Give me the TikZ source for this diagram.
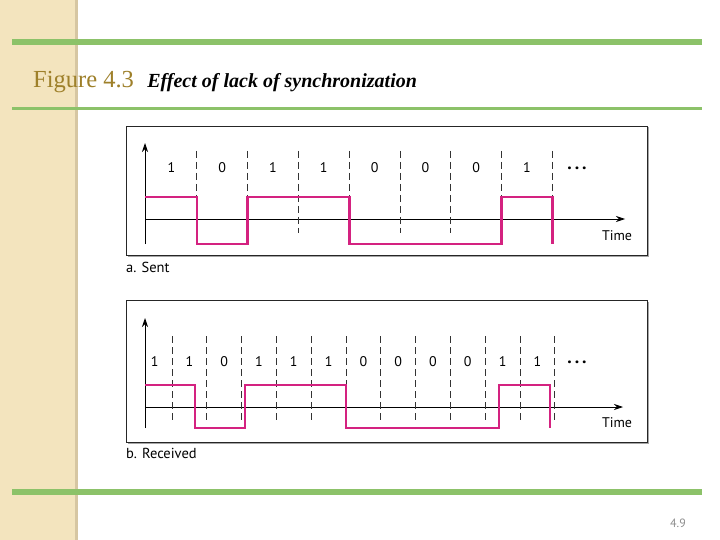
\documentclass[tikz,border=0pt]{standalone}
\usepackage{fontspec}
\setmainfont{Liberation Serif}
\newfontfamily\figsans{PT Sans}
\usepackage{tikz}
\usetikzlibrary{
  arrows.meta,
  positioning,
  calc
}
\definecolor{slidegreen}{RGB}{140,194,105}
\definecolor{sidetan}{RGB}{243,228,190}
\definecolor{sideedge}{RGB}{214,198,162}
\definecolor{titlegold}{RGB}{158,128,42}
\definecolor{signalpink}{RGB}{212,34,128}
\tikzset{
  panelbox/.style={draw=black!85,line width=0.8pt,fill=white},
  panelshadow/.style={fill=black!35},
  axisline/.style={-{Stealth[length=9pt,width=6pt]},line width=0.8pt},
  bitline/.style={dash pattern=on 7pt off 4pt,line width=0.9pt,draw=black!80},
  bitlabel/.style={font=\figsans\fontsize{14}{14}\selectfont,inner sep=0pt},
  dotsnode/.style={font=\figsans\fontsize{18}{18}\selectfont,inner sep=0pt},
  sigline/.style={draw=signalpink,line width=2.6pt},
  caption/.style={font=\figsans\fontsize{14.5}{14.5}\selectfont,anchor=base west,inner sep=0pt},
  greenbar/.style={fill=slidegreen},
}

\begin{document}
\begin{tikzpicture}[x=1pt,y=-1pt]
  \useasboundingbox (0,0) rectangle (720,540);
  % slide frame
  \fill[sidetan] (0,0) rectangle (78,540);
  \fill[sideedge] (75,0) rectangle (78,540);
  \fill[greenbar] (12,39) rectangle (702,45);
  \fill[greenbar] (12,107) rectangle (702,110);
  \fill[greenbar] (12,489) rectangle (702,495);
  \node[anchor=base west,inner sep=0pt,text=titlegold,font=\fontsize{24.5}{24.5}\selectfont] (fignum) at (33,88) {Figure 4.3};
  \node[inner sep=0pt,font=\bfseries\itshape\fontsize{20}{20}\selectfont,right=13pt of fignum.base east,anchor=base west] (figtitle) {Effect of lack of synchronization};
  \node[text=black!45,font=\figsans\fontsize{12}{12}\selectfont] (pagenum) at (678,523) {4.9};

  % a. sent
  \fill[panelshadow] (127.5,127.5) rectangle (648.5,256.5);
  \draw[panelbox] (126,126) rectangle (647,255);
  \coordinate (sentorig) at (145,219);
  \coordinate (sentbot) at (145,244);
  \coordinate (senttop) at (145,143);
  \coordinate (sentend) at (625,219);
  \draw[axisline] (sentbot) -- (senttop);
  \draw[axisline] (sentorig) -- (sentend);
  \foreach \k in {1,...,8}
    \draw[bitline] ({146+50.8*\k},151) -- ({146+50.8*\k},233);
  \foreach \b [count=\k] in {1,0,1,1,0,0,0,1}
    \node[bitlabel] (sentbit\k) at ({146+50.8*(\k-0.5)},168) {\b};
  \node[dotsnode] (sentdots) at (577,168) {\textbf{.\,.\,.}};
  \draw[sigline] (145,197) -- (196.8,197) -- (196.8,244) -- (247.6,244) -- (247.6,197)
    -- (349.2,197) -- (349.2,244) -- (501.6,244) -- (501.6,197) -- (552.4,197) -- (552.4,244);
  \node[bitlabel] (senttime) at (617,236) {Time};
  \node[caption] (sentcap) at (126,272) {a. Sent};

  % b. received
  \fill[panelshadow] (127.5,301.5) rectangle (648.5,443.5);
  \draw[panelbox] (126,300) rectangle (647,442);
  \coordinate (recvorig) at (145,407);
  \coordinate (recvbot) at (145,428);
  \coordinate (recvtop) at (145,318);
  \coordinate (recvend) at (623,407);
  \draw[axisline] (recvbot) -- (recvtop);
  \draw[axisline] (recvorig) -- (recvend);
  \foreach \k in {1,...,12}
    \draw[bitline] ({172+34.8*(\k-1)},336) -- ({172+34.8*(\k-1)},420);
  \foreach \b [count=\k] in {1,1,0,1,1,1,0,0,0,0,1,1}
    \node[bitlabel] (recvbit\k) at ({172+34.8*(\k-1.5)},362) {\b};
  \node[dotsnode] (recvdots) at (577,362) {\textbf{.\,.\,.}};
  \draw[sigline] (145,385) -- (195,385) -- (195,428) -- (245,428) -- (245,385)
    -- (346,385) -- (346,428) -- (499,428) -- (499,385) -- (550,385) -- (550,428);
  \node[bitlabel] (recvtime) at (617,423) {Time};
  \node[caption] (recvcap) at (126,458) {b. Received};
\end{tikzpicture}
\end{document}
